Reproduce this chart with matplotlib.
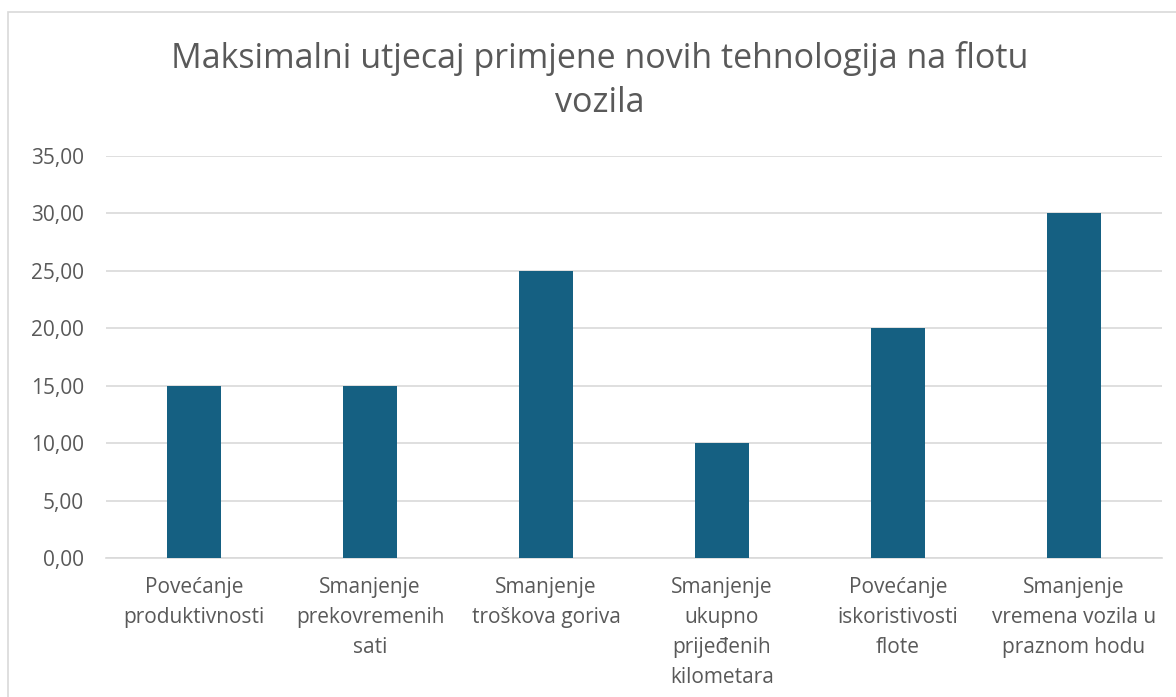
import matplotlib
matplotlib.use("Agg")
import matplotlib.pyplot as plt
from matplotlib.patches import Rectangle
from matplotlib.ticker import FuncFormatter, MultipleLocator

categories = ["Povećanje\nproduktivnosti", "Smanjenje\nprekovremenih\nsati",
              "Smanjenje\ntroškova goriva", "Smanjenje\nukupno\nprijeđenih\nkilometara",
              "Povećanje\niskoristivosti\nflote", "Smanjenje\nvremena vozila u\npraznom hodu"]
values = [15, 15, 25, 10, 20, 30]
title_lines = ["Maksimalni utjecaj primjene novih tehnologija na flotu", "vozila"]

plt.rcParams['font.family'] = ['Open Sans', 'DejaVu Sans']
W, H = 1176, 697
fig = plt.figure(figsize=(W/100, H/100), dpi=100)
fig.patches.append(Rectangle((8/W, -0.1), 1.2, 1 - 12/H + 0.1, transform=fig.transFigure,
                             fill=False, edgecolor="#d9d9d9", linewidth=1.2))
ax = fig.add_axes([106/W, 1 - 558/H, (1162-106)/W, (558-156)/H])
x = range(len(values))
ax.bar(x, values, width=0.31, color="#156082", zorder=3)
ax.set_xlim(-0.5, len(values) - 0.5)
ax.set_ylim(0, 35)
ax.yaxis.set_major_locator(MultipleLocator(5))
ax.yaxis.set_major_formatter(FuncFormatter(lambda v, p: f"{v:.2f}".replace(".", ",")))
ax.grid(axis="y", color="#d9d9d9", linewidth=1.2, zorder=0)
for s in ["top", "right", "left"]:
    ax.spines[s].set_visible(False)
ax.spines["bottom"].set_color("#d9d9d9")
ax.spines["bottom"].set_linewidth(1.2)
ax.set_xticks(list(x))
ax.set_xticklabels(categories, fontsize=15, color="#595959", linespacing=1.56, va="top")
ax.tick_params(axis="x", length=0, pad=14)
ax.tick_params(axis="y", length=0, pad=16, labelsize=15, labelcolor="#595959")
fig.text(600/W, 1 - 68/H, title_lines[0], ha="center", va="baseline", fontsize=24.5, color="#595959")
fig.text(600/W, 1 - 112/H, title_lines[1], ha="center", va="baseline", fontsize=24.5, color="#595959")
fig.savefig("out.png", dpi=100)
